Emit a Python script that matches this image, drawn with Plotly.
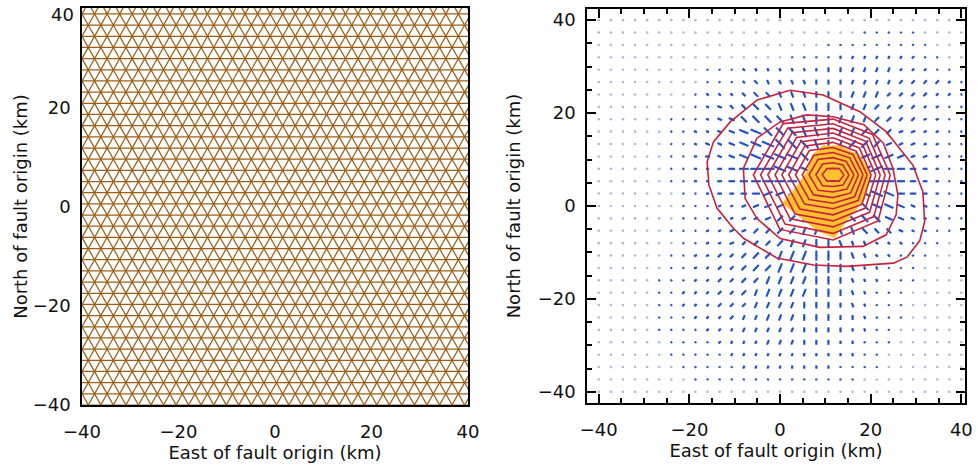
import math
import plotly.graph_objects as go

# ---------------- data ----------------
AXIS_TICKS = [-40, -20, 0, 20, 40]
X_TITLE = "East of fault origin (km)"
Y_TITLE = "North of fault origin (km)"

# left panel: triangular finite-element mesh (node spacing, km)
MESH_RANGE = [-40, 40]
MESH_SPACING_KM = 2.6

# right panel: displacement vectors on a 31 x 31 grid (-40..40 km), rows top (north) to bottom
GRID_N = 31
GRID_MIN, GRID_MAX = -40.0, 40.0
VEC_KM_PER_UNIT = 0.36         # arrow length per magnitude unit
VEC_MAG_ROWS = [
    "0000000000000000000000000000000",
    "0000000000000000000000 11111 0000",
    "0000000000000000000 111111111 000",
    "0000000000000000 1111 2222222 11 00",
    "000000000 111 222222 2333333222 110",
    "000000000 111 2 3333333333333333 21",
    "0000000012223 44444444444 3333221",
    "00000000 1 233 4555 5555 4444333 22 11",
    "000000 11 1 234 566 66666 554443 322 11",
    "000000 1 1 2 234 6777 7766 55544 332 211",
    "000000 11 2 334 6788 8765 56654 3322 11",
    "000000 11 2 334 6788 875 3 4 67765 332 11",
    "000000 11 2 234 67887 532 3 78875 432 11",
    "000000 11 2 234 56776 422 47 8875 432 11",
    "0000000 1 1 233 45665 433 57 8875 432 11",
    "0000000 11 122 34554 444 56 7765 332 11",
    "0000000 11 122 33455 555 55 6654 322 11",
    "000000 111 223 34455 555 55 5443 221 10",
    "0000000 112 23 34455555 43 3222 11100",
    "000000 1122 33 45566666 54 3221 11000",
    "000000 1122 33 45566666 54 2211 10000",
    "00000 11122 33 44555555 43 2211 10000",
    "00000 11222 33 44555555 43 2111 00000",
    "00000 11222 33 34444444 33 2111 00000",
    "00000 11122 23 33444444 33 2111 00000",
    "00000 11112 22 33333333 32 2110 00000",
    "000000 1111 22 22333333 22 1110 00000",
    "000000 1111 12 22222222 22 1100 00000",
    "0000000 111 11 22222222 11 1100 00000",
    "00000000 11 11 11111111 11 0000 00000",
    "0000000000000000000000000000000",
]
# orientation (run-length coded): a=0deg b=22.5 c=45 d=67.5 e=90 f=112.5 g=135 h=157.5, '.' none
VEC_DIR_ROWS = [
    "31.",
    "22. 5d 4.",
    "19. 3e 5d 1c 3.",
    "16. 1f 4e 5d 3c 2.",
    "9. 4g 5f 3e 4d 5c 1.",
    "9. 5g 4f 3e 4d 6c",
    "8. 1h 6g 3f 3e 3d 6c 1b",
    "8. 3h 4g 3f 3e 2d 5c 3b",
    "6. 6h 4g 2f 2e 3d 4c 4b",
    "6. 8h 3g 2f 1e 2d 3c 6b",
    "6. 9h 3g 1f 1e 1d 3c 7b",
    "6. 4a 7h 1g 1f 1e 1d 1c 7b 2a",
    "6. 9a 3h 1g 1e 1c 3b 7a",
    "6. 25a",
    "7. 7a 4b 1c 1e 1g 4h 6a",
    "7. 2a 7b 2c 1d 1e 1f 2g 7h 1a",
    "7. 8b 2c 2d 1e 1f 3g 7h",
    "6. 7b 4c 2d 1e 2f 3g 5h 1.",
    "7. 5b 4c 2d 2e 3f 4g 2h 2.",
    "6. 4b 5c 3d 3e 2f 5g 3.",
    "6. 3b 6c 3d 3e 3f 3g 4.",
    "5. 1b 8c 4d 3e 4f 2g 4.",
    "5. 1b 7c 5d 3e 4f 1g 5.",
    "5. 8c 4d 4e 5f 5.",
    "5. 7c 5d 5e 4f 5.",
    "5. 6c 6d 5e 3f 6.",
    "6. 5c 6d 5e 3f 6.",
    "6. 4c 7d 5e 2f 7.",
    "7. 2c 7d 6e 2f 7.",
    "8. 1c 7d 6e 9.",
    "31.",
]
DIR_CODES = {"a": 0.0, "b": 22.5, "c": 45.0, "d": 67.5, "e": 90.0, "f": 112.5, "g": 135.0, "h": 157.5}

# slip patch (filled) outline, km
SLIP_X = [0.4, 3.3, 5.9, 7.0, 9.5, 13.0, 17.6, 20.1, 18.7, 13.6, 12.1, 8.4]
SLIP_Y = [0.6, 3.8, 7.4, 10.9, 13.1, 13.0, 10.9, 6.7, 1.6, -4.7, -6.9, -5.5]

# outer two contours (vertices), km
CONTOUR1_X = [-5.1, 2.2, 9.5, 17.6, 23.4, 29.3, 31.5, 31.9, 30.8, 28.0, 25.0, 14.7, 7.4, -0.7, -8.0, -10.3, -13.9, -15.7, -16.1, -14.7, -11.0]
CONTOUR1_Y = [22.8, 24.9, 23.9, 20.3, 16.0, 8.8, 3.1, -3.4, -7.5, -11.0, -12.3, -13.0, -12.7, -11.2, -7.0, -4.8, -0.5, 4.5, 9.5, 13.8, 18.1]
CONTOUR2_X = [-8.1, -5.1, 0.0, 5.9, 11.7, 18.5, 22.8, 24.9, 26.0, 25.6, 23.4, 18.3, 8.8, 0.0, -5.1, -7.7]
CONTOUR2_Y = [8.1, 14.6, 18.1, 19.6, 19.2, 17.5, 13.5, 8.1, 2.4, -1.9, -6.2, -8.7, -8.9, -7.0, -2.7, 1.6]

# inner contours: radii (km) from the slip maximum along E, NE, N, NW, W, SW, S, SE
CONTOUR_CENTER = (11.7, 6.7)
CONTOUR_DIRS_DEG = [0, 45, 90, 135, 180, 225, 270, 315]
INNER_CONTOUR_RADII = [
    [2.4, 1.9, 1.4, 1.9, 2.4, 1.9, 1.3, 1.9],
    [3.5, 3.0, 2.6, 3.3, 3.8, 3.3, 2.5, 3.1],
    [4.6, 4.1, 3.7, 4.7, 5.3, 4.7, 3.7, 4.3],
    [5.6, 5.2, 4.8, 6.0, 6.8, 6.1, 4.9, 5.5],
    [6.6, 6.2, 5.9, 7.4, 8.3, 7.5, 6.1, 6.7],
    [7.5, 7.2, 7.0, 8.8, 9.8, 8.9, 7.3, 7.8],
    [8.4, 8.2, 8.0, 10.1, 11.3, 10.4, 8.6, 9.0],
    [9.4, 9.2, 9.0, 11.4, 12.8, 11.9, 9.9, 10.1],
    [10.4, 10.2, 10.0, 12.8, 14.4, 13.4, 11.2, 11.4],
    [11.5, 11.2, 11.0, 14.2, 16.0, 15.0, 12.6, 12.7],
    [12.6, 12.3, 12.0, 15.6, 17.6, 16.6, 14.0, 14.0],
]

# ---------------- styles ----------------
MESH_COLOR = "#9c5f17"
VEC_COLOR = "#2152c6"
DOT_COLOR = "rgba(95,115,180,0.5)"
SLIP_COLOR = "#ffc12e"
CONTOUR_COLOR = "#c8213d"
FONT = dict(family="DejaVu Sans, Arial, sans-serif", size=18, color="#111111")


def expand_rle(s):
    out = ""
    for tok in s.split():
        out += tok[-1] * int(tok[:-1])
    return out.ljust(GRID_N, ".")[:GRID_N]


fig = go.Figure()

# ---- left: triangular mesh as three families of lattice lines ----
h = MESH_SPACING_KM
dy = h * math.sqrt(3) / 2
lo, hi = MESH_RANGE
mx, my = [], []
nrows = int((hi - lo) / dy) + 2
for k in range(-1, nrows + 1):
    yk = lo + k * dy
    mx += [lo - 5, hi + 5, None]
    my += [yk, yk, None]
span = hi - lo
ncols = int(2 * span / h) + 4
for m in range(-ncols, ncols + 1):
    x0 = lo + m * h
    t0, t1 = -10, span * 1.3
    for sgn in (1, -1):
        mx += [x0 + sgn * 0.5 * t0, x0 + sgn * 0.5 * t1, None]
        my += [lo - dy + math.sqrt(3) / 2 * t0, lo - dy + math.sqrt(3) / 2 * t1, None]
fig.add_trace(go.Scatter(x=mx, y=my, mode="lines", line=dict(color=MESH_COLOR, width=1.25),
                         xaxis="x", yaxis="y", hoverinfo="skip", showlegend=False))

# ---- right: vectors ----
step = (GRID_MAX - GRID_MIN) / (GRID_N - 1)
gx = [GRID_MIN + i * step for i in range(GRID_N)]
gy = [GRID_MAX - j * step for j in range(GRID_N)]
dxs, dys = [], []
ax, ay = [], []
for j in range(GRID_N):
    mags = VEC_MAG_ROWS[j].replace(" ", "").ljust(GRID_N, "0")[:GRID_N]
    dirs = expand_rle(VEC_DIR_ROWS[j])
    for i in range(GRID_N):
        dxs.append(gx[i])
        dys.append(gy[j])
        mval = int(mags[i])
        c = dirs[i]
        if mval == 0 or c not in DIR_CODES:
            continue
        L = mval * VEC_KM_PER_UNIT
        a = math.radians(DIR_CODES[c])
        ux, uy = math.cos(a) * L / 2, math.sin(a) * L / 2
        ax += [gx[i] - ux, gx[i] + ux, None]
        ay += [gy[j] - uy, gy[j] + uy, None]

fig.add_trace(go.Scatter(x=dxs, y=dys, mode="markers", marker=dict(size=2.6, color=DOT_COLOR),
                         xaxis="x2", yaxis="y2", hoverinfo="skip", showlegend=False))
fig.add_trace(go.Scatter(x=ax, y=ay, mode="lines", line=dict(color=VEC_COLOR, width=2.1),
                         xaxis="x2", yaxis="y2", hoverinfo="skip", showlegend=False))

# slip patch
fig.add_trace(go.Scatter(x=SLIP_X + SLIP_X[:1], y=SLIP_Y + SLIP_Y[:1], mode="lines", fill="toself",
                         fillcolor=SLIP_COLOR, line=dict(width=0, color=SLIP_COLOR),
                         xaxis="x2", yaxis="y2", hoverinfo="skip", showlegend=False))

# contours
def add_contour(xs, ys):
    fig.add_trace(go.Scatter(x=xs + xs[:1], y=ys + ys[:1], mode="lines",
                             line=dict(color=CONTOUR_COLOR, width=1.6),
                             xaxis="x2", yaxis="y2", hoverinfo="skip", showlegend=False))

add_contour(CONTOUR1_X, CONTOUR1_Y)
add_contour(CONTOUR2_X, CONTOUR2_Y)
cx0, cy0 = CONTOUR_CENTER
for radii in INNER_CONTOUR_RADII:
    xs = [cx0 + r * math.cos(math.radians(d)) for r, d in zip(radii, CONTOUR_DIRS_DEG)]
    ys = [cy0 + r * math.sin(math.radians(d)) for r, d in zip(radii, CONTOUR_DIRS_DEG)]
    add_contour(xs, ys)

W, H = 977, 467
common = dict(showgrid=False, zeroline=False, showline=True, linecolor="black", linewidth=1.5,
              tickfont=FONT, title_font=FONT, automargin=False, ticklabeloverflow="allow")

fig.update_layout(
    width=W, height=H, margin=dict(l=0, r=0, t=0, b=0, autoexpand=False),
    paper_bgcolor="white", plot_bgcolor="white", showlegend=False,
    xaxis=dict(domain=[82 / W, 468 / W], range=MESH_RANGE, anchor="y", mirror=True, ticks="",
               tickvals=AXIS_TICKS, ticklabelstandoff=10, title=dict(text=X_TITLE, standoff=4), **common),
    # top label of the left panel sits just below the frame corner (drawn as annotation)
    yaxis=dict(domain=[(H - 405) / H, (H - 8) / H], range=MESH_RANGE, anchor="x", mirror=True, ticks="",
               tickvals=AXIS_TICKS[:-1], ticklabelstandoff=6, title=dict(text=Y_TITLE, standoff=0), **common),
    xaxis2=dict(domain=[587 / W, 965 / W], range=[-42.6, 40.8], anchor="y2", mirror="allticks",
                ticks="inside", ticklen=9, tickcolor="black", tickwidth=1.5, tickvals=AXIS_TICKS,
                minor=dict(dtick=5, ticks="inside", ticklen=5, tickcolor="black"),
                ticklabelstandoff=10, title=dict(text=X_TITLE, standoff=4), **common),
    yaxis2=dict(domain=[(H - 403) / H, (H - 9) / H], range=[-42.4, 42.4], anchor="x2", mirror="allticks",
                ticks="inside", ticklen=9, tickcolor="black", tickwidth=1.5, tickvals=AXIS_TICKS,
                minor=dict(dtick=5, ticks="inside", ticklen=5, tickcolor="black"),
                ticklabelstandoff=6, title=dict(text=Y_TITLE, standoff=12), **common),
)
fig.add_annotation(x=0, xref="paper", xanchor="right", xshift=82 - 6,
                   y=AXIS_TICKS[-1], yref="y", yanchor="top", yshift=6,
                   text=str(AXIS_TICKS[-1]), showarrow=False, font=FONT)

fig.write_html("out.html", config={"displayModeBar": False},
               post_script="document.body.style.margin='0';document.body.style.overflow='hidden';")
